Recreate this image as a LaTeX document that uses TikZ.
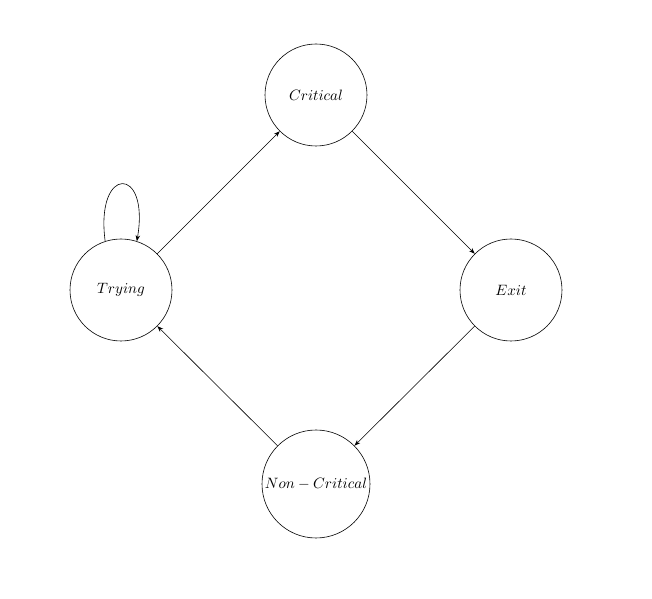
\documentclass[tikz,border=0pt]{standalone}
\usetikzlibrary{arrows.meta}
\begin{document}
\begin{tikzpicture}[x=0.6667pt,y=-0.6667pt,
  st/.style={draw,circle,inner sep=0pt},
  ar/.style={-{Stealth[length=4pt,width=3pt]},thin}]
\useasboundingbox (0,0) rectangle (652,599);
\node[st,minimum size=68pt] (c) at (316,95) {$Critical$};
\node[st,minimum size=68pt] (t) at (121,290) {$Trying$};
\node[st,minimum size=68pt] (e) at (511,290) {$Exit$};
\node[st,minimum size=72pt] (n) at (316,484) {$Non-Critical$};
\draw[ar] (t) -- (c);
\draw[ar] (c) -- (e);
\draw[ar] (e) -- (n);
\draw[ar] (n) -- (t);
\draw[ar] (t.108) .. controls (95,165) and (150,165) .. (t.72);
\end{tikzpicture}
\end{document}
